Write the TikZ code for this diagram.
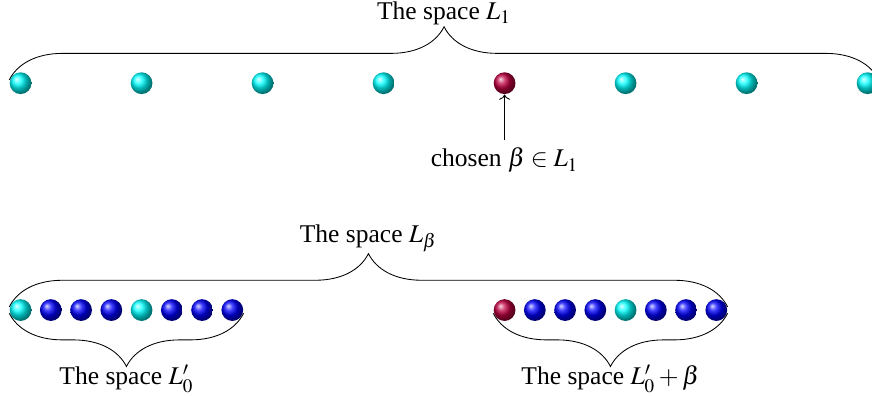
\documentclass[tikz,border=0pt]{standalone}
\usepackage{mathptmx}
\usepackage{fontspec}
\setmainfont{Liberation Serif}
\usepackage{tikz}
\usetikzlibrary{arrows.meta,decorations.pathreplacing,positioning}

\begin{document}
\begin{tikzpicture}[>=To,font=\fontsize{12}{14}\selectfont,
    ball/.style={circle,inner sep=0pt,minimum size=0.36cm},
    spacebrace/.style={decorate,decoration={brace,amplitude=0.88cm,raise=1.5pt}}]
  \useasboundingbox (0,0) rectangle (14.413,6.545);

  % the space L_1
  \foreach \i/\c in {0/cyan,1/cyan,2/cyan,3/cyan,4/purple,5/cyan,6/cyan,7/cyan}
    \node[ball,ball color=\c] (t\i) at ({0.34+2*\i},5.17) {};
  \draw[spacebrace] (t0.west) -- (t7.east)
    node[midway,above=0.88cm+1.5pt,inner sep=0.5pt] (Lone) {The space $L_1$};

  \node[anchor=base] (chosen) at (8.34,3.785) {chosen $\beta\in L_1$};
  \draw[->] (chosen) -- (t4);

  % the space L_beta
  \foreach \i/\c in {0/cyan,1/blue,2/blue,3/blue,4/cyan,5/blue,6/blue,7/blue}
    \node[ball,ball color=\c] (l\i) at ({0.34+0.5*\i},1.42) {};
  \foreach \i/\c in {0/purple,1/blue,2/blue,3/blue,4/cyan,5/blue,6/blue,7/blue}
    \node[ball,ball color=\c] (r\i) at ({8.34+0.5*\i},1.42) {};

  \draw[spacebrace] (l0.west) -- (r7.east)
    node[midway,above=0.88cm+1.5pt,inner sep=0.5pt] (Lbeta) {The space $L_\beta$};
  \draw[spacebrace] (l7.east) -- (l0.west)
    node[midway,below=0.88cm,inner sep=0.5pt] (Lzero) {The space $L_0'$};
  \draw[spacebrace] (r7.east) -- (r0.west)
    node[midway,below=0.88cm,inner sep=0.5pt] (Lshift) {The space $L_0'+\beta$};
\end{tikzpicture}
\end{document}
